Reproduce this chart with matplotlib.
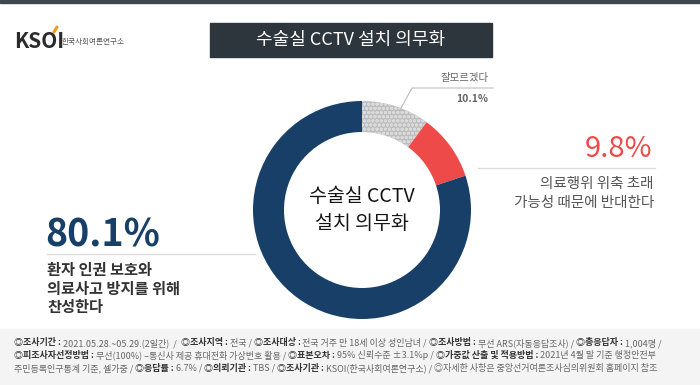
import numpy as np
import matplotlib.pyplot as plt
from matplotlib.patches import Rectangle

plt.rcParams['font.family'] = ['Noto Sans CJK KR', 'DejaVu Sans']

# survey data
labels = ['잘모르겠다', '반대', '찬성']
values = [10.1, 9.8, 80.1]
colors = ['#bcbcbc', '#ef4a4a', '#173f67']
title = '수술실 CCTV 설치 의무화'
center_text = '수술실 CCTV\n설치 의무화'
desc_against = ['의료행위 위축 초래', '가능성 때문에 반대한다']
desc_for = ['환자 인권 보호와', '의료사고 방지를 위해', '찬성한다']

footer = [
    [('◎조사기간 :', True), (' 2021.05.28.~05.29.(2일간)  /  ', False), ('◎조사지역 :', True),
     (' 전국 / ', False), ('◎조사대상 :', True), (' 전국 거주 만 18세 이상 성인남녀 / ', False),
     ('◎조사방법 :', True), (' 무선 ARS(자동응답조사) / ', False), ('◎총응답자 :', True),
     (' 1,004명 /', False)],
    [('◎피조사자선정방법 :', True), (' 무선(100%) –통신사 제공 휴대전화 가상번호 활용 / ', False),
     ('◎표본오차 :', True), (' 95% 신뢰수준 ±3.1%p / ', False), ('◎가중값 산출 및 적용방법 :', True),
     (' 2021년 4월 말 기준 행정안전부', False)],
    [('주민등록인구통계 기준, 셀가중 / ', False), ('◎응답률 :', True), (' 6.7% / ', False),
     ('◎의뢰기관 :', True), (' TBS / ', False), ('◎조사기관 :', True),
     (' KSOI(한국사회여론연구소) / ', False), ('◎자세한 사항은 중앙선거여론조사심의위원회 홈페이지 참조', False)],
]

W, H = 700, 385
fig = plt.figure(figsize=(7, 3.85), dpi=100)
ax = fig.add_axes([0, 0, 1, 1])


def Y(y):
    return H - y


# donut
cx, cy, R = 362, 210, 109
wedges, _ = ax.pie(values, colors=colors, startangle=90, counterclock=False,
                   center=(cx, Y(cy)), radius=R, frame=True,
                   wedgeprops=dict(width=31, linewidth=0))
wedges[0].set_hatch('oooo')
wedges[0].set_edgecolor('#dadada')
wedges[0].set_linewidth(0)

ax.set_xlim(0, W)
ax.set_ylim(0, H)
ax.set_aspect('equal')
ax.axis('off')

# background pieces
ax.add_patch(Rectangle((0, Y(3)), W, 3, color='#3d4750', zorder=0))
ax.add_patch(Rectangle((0, 0), W, Y(329), color='#f4f4f4', zorder=0))
ax.add_patch(Rectangle((210, Y(57)), 282, 34, color='#2d353d', zorder=1))
ax.text(351, Y(40), title, color='white', fontsize=13, ha='center', va='center')

# logo
ax.text(14, Y(41), 'KSOI', fontsize=15, weight='bold', color='#2b2b2b', va='center')
ax.plot([54, 57], [Y(32), Y(27)], color='#f39a1e', lw=2.2, solid_capstyle='round')
ax.text(62, Y(42), '한국사회여론연구소', fontsize=5.5, color='#555', va='center')

# center label
ax.text(cx, Y(cy), center_text, fontsize=14, ha='center', va='center',
        color='#151515', linespacing=1.35)

# don't know callout
ax.plot([400, 412, 493], [Y(110), Y(88), Y(88)], color='#bdbdbd', lw=0.8)
ax.text(489, Y(78), labels[0], fontsize=7.5, color='#666', ha='right', va='center')
ax.text(488, Y(99), f'{values[0]}%', fontsize=7.5, color='#666', ha='right', va='center',
        weight='bold')

# against
ax.text(652, Y(149), f'{values[1]}%', fontsize=21, color=colors[1], ha='right', va='center')
ax.plot([478, 655], [Y(168), Y(168)], color='#dddddd', lw=1)
for i, s in enumerate(desc_against):
    ax.text(654, Y(184 + 19 * i), s, fontsize=10.5, color='#555', ha='right', va='center')

# for
ax.text(45, Y(235), f'{values[2]}%', fontsize=27, color=colors[2], ha='left', va='center',
        weight='bold')
ax.plot([47, 255], [Y(254), Y(254)], color='#dddddd', lw=1)
for i, s in enumerate(desc_for):
    ax.text(47, Y(270 + 18.5 * i), s, fontsize=11, color='#333', ha='left', va='center',
            weight='bold')

# footer with bold labels
r = fig.canvas.get_renderer()


def width(s, bold, fs):
    t = ax.text(0, 0, s, fontsize=fs, weight='bold' if bold else 'normal')
    w = t.get_window_extent(r).width
    t.remove()
    return w


fs = 6.5
sp = width('가 가', False, fs) - width('가가', False, fs)
for j, line in enumerate(footer):
    x = 14
    for s, bold in line:
        lead = len(s) - len(s.lstrip(' '))
        trail = len(s) - len(s.rstrip(' '))
        x += lead * sp
        core = s.strip(' ')
        t = ax.text(x, Y(343 + 12.5 * j), core, fontsize=fs, va='center',
                    color='#333' if bold else '#666', weight='bold' if bold else 'normal')
        x += t.get_window_extent(r).width + trail * sp

fig.savefig('out.png', dpi=100)
